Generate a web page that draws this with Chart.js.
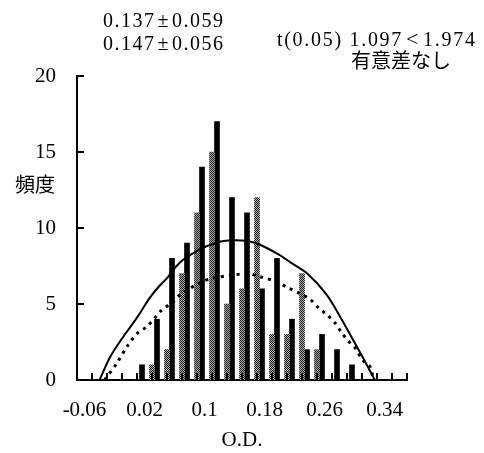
<!DOCTYPE html>
<html><head><meta charset="utf-8">
<script src="https://cdn.jsdelivr.net/npm/chart.js@4.4.1/dist/chart.umd.min.js"></script>
<style>
html,body{margin:0;padding:0;background:#fff;}
#wrap{position:relative;width:484px;height:453px;overflow:hidden;}
canvas{position:absolute;left:0;top:0;}
.t{position:absolute;white-space:nowrap;color:#000;font-family:"Liberation Serif",serif;font-size:20px;line-height:20px;}
.j{font-family:"Noto Sans CJK JP",sans-serif;letter-spacing:0;}
</style></head><body>
<div id="wrap">
<canvas id="c" width="484" height="453"></canvas>
<div class="t" style="left:103px;top:10px;letter-spacing:1.5px">0.137<span style="margin:0 2px">±</span>0.059</div>
<div class="t" style="left:103px;top:33px;letter-spacing:1.5px">0.147<span style="margin:0 2px">±</span>0.056</div>
<div class="t" style="left:277px;top:29px;letter-spacing:1.7px">t(0.05) 1.097<span style="margin:0 3px;font-size:22px">&lt;</span>1.974</div>
<div class="t j" style="left:351px;top:50px;">有意差なし</div>
<div class="t j" style="left:15px;top:174px;">頻度</div>
</div>
<script>
// categories (class centers of O.D.)
const categories = ['-0.06','-0.04','-0.02','0','0.02','0.04','0.06','0.08','0.1','0.12','0.14','0.16','0.18','0.2','0.22','0.24','0.26','0.28','0.3','0.32','0.34','0.36'];
// gray series (0.147±0.056)
const grayCounts  = [0,0,0,0,0,1,2,7,11,15,5,6,12,3,3,7,2,0,0,0,0,0];
// black series (0.137±0.059)
const blackCounts = [0,0,0,0,1,4,8,9,14,17,12,11,6,8,4,2,3,2,1,0,0,0];
// solid fitted curve
const solidCurveX = [-0.040,-0.026,-0.009,0.010,0.027,0.041,0.050,0.061,0.071,0.085,0.098,0.114,0.125,0.140,0.157,0.174,0.201,0.214,0.237,0.263,0.281,0.298,0.311,0.327];
const solidCurveY = [0,1.5,2.8,4.1,5.4,6.25,6.7,7.4,7.9,8.35,8.7,9.0,9.15,9.2,9.15,8.9,8.2,7.75,7.0,5.6,4.15,2.65,1.5,0];
// dotted fitted curve
const dottedCurveX = [-0.033,-0.017,-0.002,0.011,0.023,0.034,0.043,0.057,0.067,0.094,0.111,0.138,0.157,0.174,0.197,0.210,0.227,0.241,0.251,0.263,0.274,0.283,0.291,0.301,0.311,0.321,0.325];
const dottedCurveY = [0,1.1,2.3,3.1,3.5,4.1,4.6,5.1,5.6,6.4,6.7,6.9,7.0,6.8,6.45,6.1,5.7,5.3,4.8,4.3,3.75,3.1,2.6,2.1,1.3,0.85,0];
const yTicks = [0,5,10,15,20];
const labelEvery = 4;

// halftone gray pattern
const pc = document.createElement('canvas');
pc.width = 2; pc.height = 2;
const pctx = pc.getContext('2d');
pctx.fillStyle = '#ababab'; pctx.fillRect(0,0,2,2);
pctx.fillStyle = '#202020'; pctx.fillRect(0,0,1,1); pctx.fillRect(1,1,1,1);
const grayPattern = pctx.createPattern(pc, 'repeat');

const insideTicks = {
  id: 'insideTicks',
  afterDraw(chart) {
    const ctx = chart.ctx, x = chart.scales.x, y = chart.scales.y;
    const half = (x.getPixelForValue(1) - x.getPixelForValue(0)) / 2;
    const bottom = chart.chartArea.bottom, left = chart.chartArea.left;
    ctx.save();
    ctx.strokeStyle = '#000';
    ctx.lineWidth = 2;
    ctx.beginPath();
    for (let k = 0; k <= categories.length; k++) {
      const px = Math.round(x.getPixelForValue(0) - half + 2 * half * k);
      ctx.moveTo(px, bottom);
      ctx.lineTo(px, bottom - 7);
    }
    yTicks.forEach(v => {
      const py = Math.round(y.getPixelForValue(v));
      ctx.moveTo(left, py);
      ctx.lineTo(left + 7, py);
    });
    ctx.stroke();
    ctx.restore();
  }
};

const tickFont = { family: '"Liberation Serif", serif', size: 21 };

new Chart(document.getElementById('c'), {
  type: 'bar',
  data: {
    labels: categories,
    datasets: [
      { label: 'gray', data: grayCounts, backgroundColor: grayPattern, borderWidth: 0, order: 1 },
      { label: 'black', data: blackCounts, backgroundColor: '#000', borderWidth: 0, order: 1 },
      { type: 'line', label: 'solid', xAxisID: 'x2',
        data: solidCurveX.map((v, i) => ({ x: v, y: solidCurveY[i] })),
        borderColor: '#000', borderWidth: 2, pointRadius: 0, tension: 0.3, fill: false, order: 0 },
      { type: 'line', label: 'dotted', xAxisID: 'x2',
        data: dottedCurveX.map((v, i) => ({ x: v, y: dottedCurveY[i] })),
        borderColor: '#000', borderWidth: 3, borderDash: [3, 5], pointRadius: 0, tension: 0.3, fill: false, order: 0 }
    ]
  },
  options: {
    responsive: false,
    animation: false,
    devicePixelRatio: 1,
    layout: { padding: { top: 76, left: 0, right: 77, bottom: 0 } },
    plugins: { legend: { display: false }, tooltip: { enabled: false } },
    datasets: { bar: { barThickness: 5, grouped: true } },
    scales: {
      x: {
        type: 'category', offset: true,
        grid: { display: false, drawTicks: false },
        border: { display: true, color: '#000', width: 2 },
        ticks: { autoSkip: false, maxRotation: 0, minRotation: 0, color: '#000', font: tickFont, padding: 18,
          callback: (v, i) => (i % labelEvery === 0 ? categories[i] : '') },
        title: { display: true, text: 'O.D.', color: '#000', font: tickFont, padding: { top: 0, bottom: 0 } },
        afterFit: s => { s.height = 73; }
      },
      x2: { type: 'linear', display: false, offset: false, grace: 0, bounds: 'data', min: -0.07, max: 0.37 },
      y: {
        min: 0, max: 20,
        grid: { display: false, drawTicks: false },
        border: { display: true, color: '#000', width: 2 },
        ticks: { stepSize: 5, color: '#000', font: tickFont, padding: 21 },
        afterFit: s => { s.width = 77; }
      }
    }
  },
  plugins: [insideTicks]
});
</script>
</body></html>
